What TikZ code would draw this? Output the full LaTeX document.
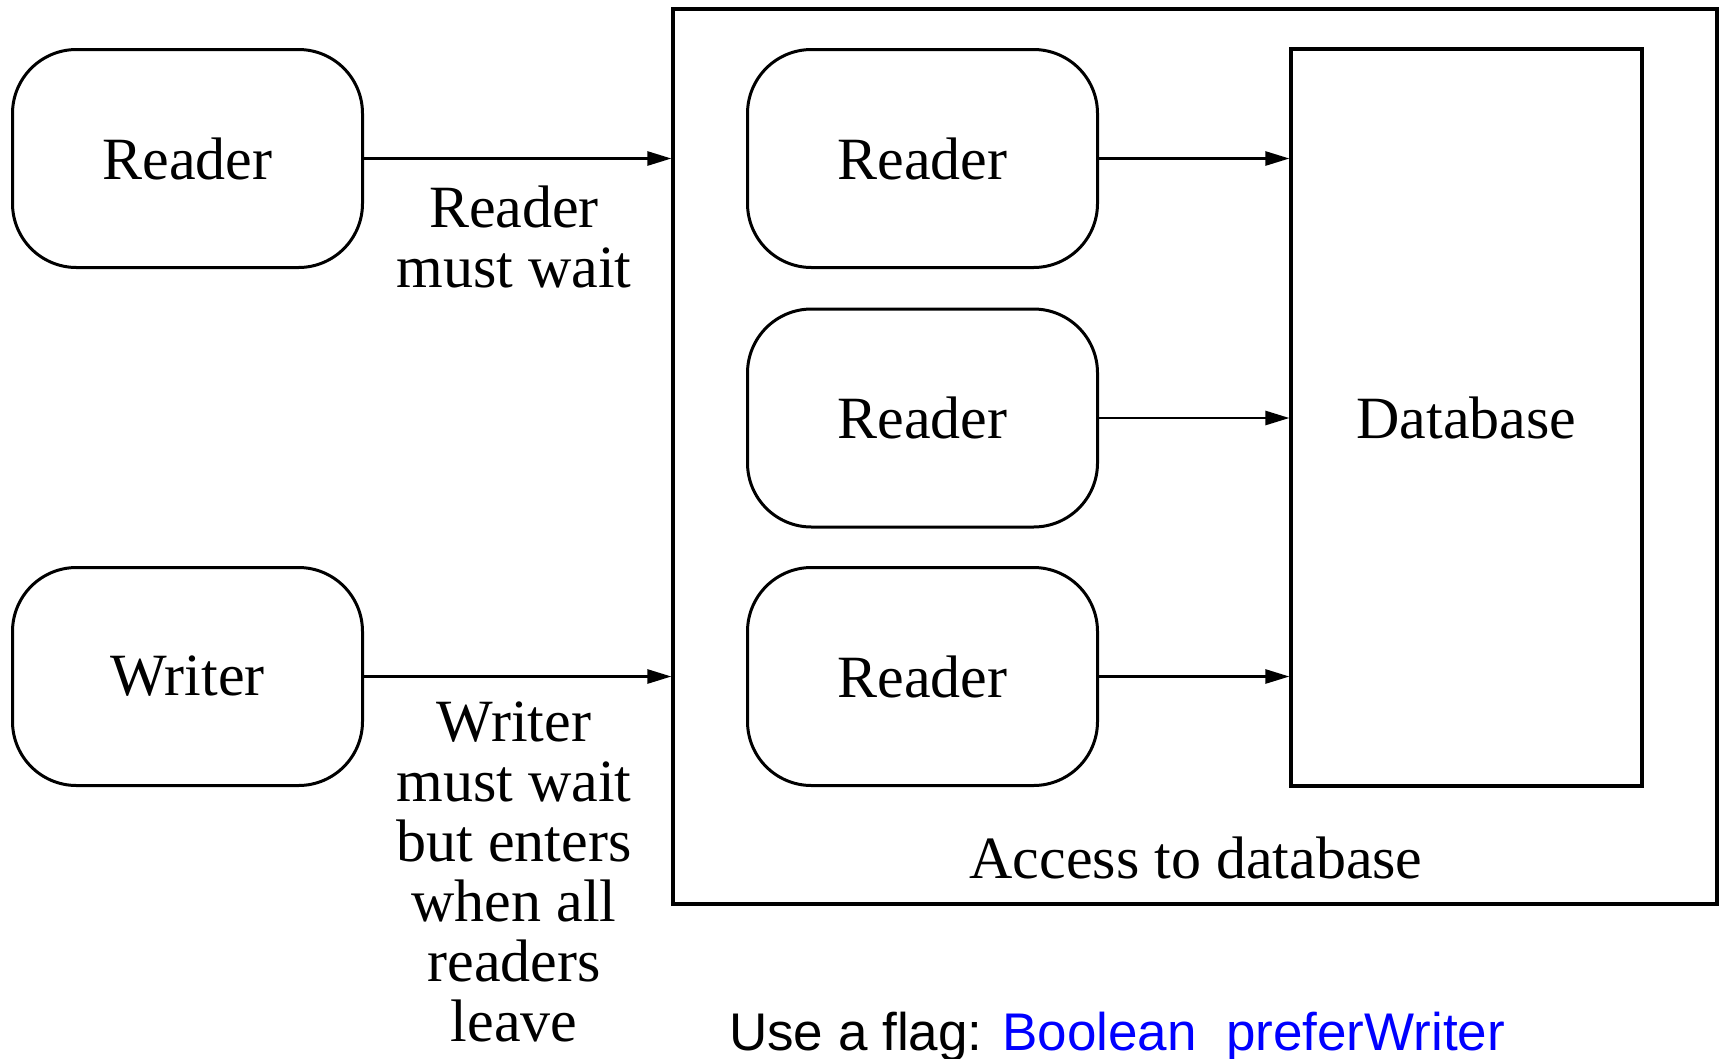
\documentclass[tikz,border=0pt]{standalone}
\usepackage{fontspec}
\setmainfont{Liberation Serif}
\newfontfamily\arialfont{Liberation Sans}
\usetikzlibrary{arrows.meta}
\definecolor{flagblue}{RGB}{0,0,255}
\begin{document}
\begin{tikzpicture}[x=1pt,y=-1pt,
  box/.style={draw, line width=3pt, rounded corners=64pt, minimum width=350pt, minimum height=218pt, inner sep=0pt, font=\fontsize{60}{60}\selectfont},
  plainbox/.style={draw, line width=3.2pt, inner sep=0pt},
  lbl/.style={align=center, inner sep=0pt, font=\fontsize{60}{60}\selectfont},
  arr/.style={line width=2.6pt, -{Triangle[length=24pt,width=14pt]}}
]
\useasboundingbox (0,0) rectangle (1724,1058);
% outer access box
\node[plainbox, minimum width=1044pt, minimum height=895pt] (outer) at (1195,456.5) {};
% database
\node[plainbox, minimum width=351pt, minimum height=737pt] (db) at (1466.5,417.5) {};
\node[lbl] (dbt) at (1466.5,418) {Database};
% left boxes
\node[box] (r0) at (187.5,158.5) {Reader};
\node[box] (w0) at (187.5,676.5) {Writer};
% inner readers
\node[box] (r1) at (922.5,158.5) {Reader};
\node[box] (r2) at (922.5,418) {Reader};
\node[box] (r3) at (922.5,676.5) {Reader};
% arrows
\draw[arr] (r0.east) -- (outer.west |- r0.east);
\draw[arr] (w0.east) -- (outer.west |- w0.east);
\draw[arr] (r1.east) -- (db.west |- r1.east);
\draw[arr] (r2.east) -- (db.west |- r2.east);
\draw[arr] (r3.east) -- (db.west |- r3.east);
% labels
\node[lbl] (lr) at (514,237) {Reader\\must wait};
\node[lbl] (lw) at (514,872) {Writer\\must wait\\but enters\\when all\\readers\\leave};
\node[lbl] (acc) at (1196,858) {Access to database};
\node[anchor=base west, inner sep=0pt, font=\arialfont\fontsize{53}{53}\selectfont] (flag) at (729,1050) {Use a flag: \textcolor{flagblue}{Boolean\ \ preferWriter}};
\end{tikzpicture}
\end{document}
